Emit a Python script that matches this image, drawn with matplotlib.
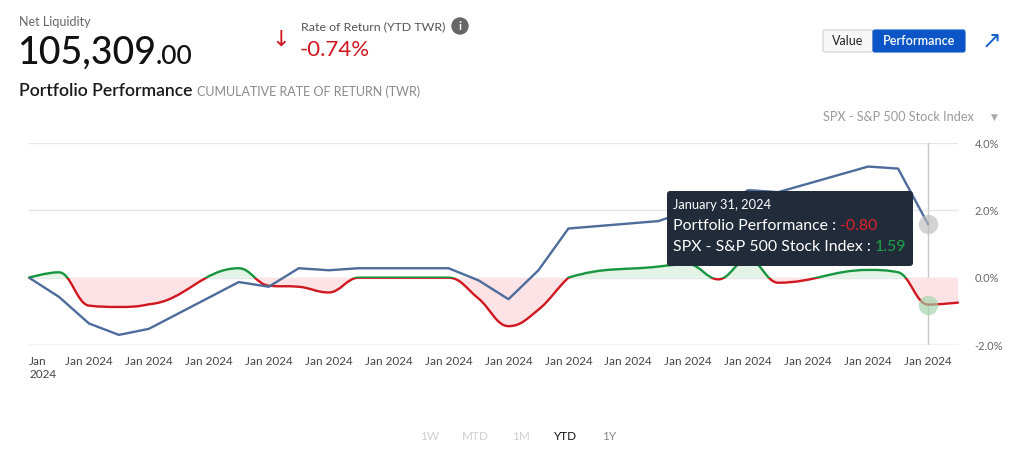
import matplotlib
matplotlib.use('Agg')
import matplotlib.pyplot as plt
from matplotlib.path import Path
from matplotlib.patches import PathPatch, Rectangle, FancyBboxPatch, Circle

plt.rcParams['font.family'] = ['Lato', 'DejaVu Sans']

# trading days of January 2024 (day of month, 32 = Feb 1)
days = [1, 2, 3, 4, 5, 8, 9, 10, 11, 12, 15, 16, 17, 18, 19, 22, 23, 24, 25, 26, 29, 30, 31, 32]
portfolio = [0.0, 0.16, -0.83, -0.87, -0.79, 0.28, -0.24, -0.27, -0.44, 0.0, 0.0, -0.62,
             -1.44, -0.95, 0.0, 0.33, 0.40, -0.05, 0.55, -0.15, 0.23, 0.16, -0.80, -0.74]
spx_days = days[:-1]
spx = [0.0, -0.57, -1.36, -1.70, -1.52, -0.13, -0.27, 0.28, 0.22, 0.28, 0.28, -0.08,
       -0.64, 0.22, 1.46, 1.68, 1.98, 2.06, 2.60, 2.54, 3.30, 3.24, 1.59]

tick_days = list(range(1, 32, 2))
tick_labels = ['Jan\n2024'] + ['Jan 2024'] * 15
y_ticks = [-2, 0, 2, 4]
y_labels = ['-2.0%', '0.0%', '2.0%', '4.0%']
ranges = ['1W', 'MTD', '1M', 'YTD', '1Y']
range_colors = ['#d0d0d0', '#d0d0d0', '#d0d0d0', '#111111', '#888888']
range_x = [430, 475, 521, 566, 609]

RED = '#d0161f'
GREEN = '#16963f'
BLUE = '#4d6c9b'


def spline(xs, ys, smoothing=1.5):
    # same kind of smoothing a spline series uses: bezier through every point
    denom = smoothing + 1
    n = len(xs)
    left = [(xs[i], ys[i]) for i in range(n)]
    right = [(xs[i], ys[i]) for i in range(n)]
    for i in range(1, n - 1):
        x, y = xs[i], ys[i]
        lx, ly = xs[i - 1], ys[i - 1]
        nx, ny = xs[i + 1], ys[i + 1]
        lcx = (smoothing * x + lx) / denom
        lcy = (smoothing * y + ly) / denom
        rcx = (smoothing * x + nx) / denom
        rcy = (smoothing * y + ny) / denom
        corr = (rcy - lcy) * (rcx - x) / (rcx - lcx) + y - rcy
        lcy += corr
        rcy += corr
        if lcy > ly and lcy > y:
            lcy = max(ly, y); rcy = 2 * y - lcy
        elif lcy < ly and lcy < y:
            lcy = min(ly, y); rcy = 2 * y - lcy
        if rcy > ny and rcy > y:
            rcy = max(ny, y); lcy = 2 * y - rcy
        elif rcy < ny and rcy < y:
            rcy = min(ny, y); lcy = 2 * y - rcy
        left[i] = (lcx, lcy)
        right[i] = (rcx, rcy)
    verts = [(xs[0], ys[0])]
    codes = [Path.MOVETO]
    for i in range(1, n):
        verts += [right[i - 1], left[i], (xs[i], ys[i])]
        codes += [Path.CURVE4] * 3
    return verts, codes


W, H = 1018, 453
fig = plt.figure(figsize=(W / 100, H / 100), dpi=100)
fig.patch.set_facecolor('white')

# main chart
ax = fig.add_axes([29 / W, 1 - 345 / H, 929 / W, 202 / H])
ax.set_xlim(1, 32)
ax.set_ylim(-2, 4)
for s in ax.spines.values():
    s.set_visible(False)
ax.set_yticks(y_ticks)
ax.set_yticklabels(y_labels)
ax.yaxis.tick_right()
ax.grid(axis='y', color='#e6e6e6', lw=1)
ax.set_axisbelow(True)
ax.axhline(-2, color='#ccd6eb', lw=1, zorder=1)
ax.set_xticks(tick_days)
ax.set_xticklabels(tick_labels)
ax.tick_params(axis='x', length=0, pad=8, labelsize=8.5, labelcolor='#444444')
ax.tick_params(axis='y', length=0, pad=12, labelsize=8, labelcolor='#666666')
for lab in ax.get_xticklabels():
    lab.set_verticalalignment('top')
ax.get_xticklabels()[0].set_horizontalalignment('left')
ax.get_xticklabels()[0].set_multialignment('left')

verts, codes = spline(days, portfolio)
above = Rectangle((0, 0), 100, 100, transform=ax.transData)
below = Rectangle((0, -100), 100, 100, transform=ax.transData)

fill_verts = verts + [(days[-1], 0), (days[0], 0), (days[0], 0)]
fill_codes = codes + [Path.LINETO, Path.LINETO, Path.CLOSEPOLY]
for clip, col in [(above, '#e3f4e7'), (below, '#fde3e5')]:
    p = PathPatch(Path(fill_verts, fill_codes), facecolor=col, edgecolor='none', zorder=2)
    ax.add_patch(p)
    p.set_clip_path(clip)
for clip, col in [(above, GREEN), (below, RED)]:
    p = PathPatch(Path(verts, codes), fill=False, edgecolor=col, lw=1.7, zorder=3,
                  capstyle='round', joinstyle='round')
    ax.add_patch(p)
    p.set_clip_path(clip)

ax.plot(spx_days, spx, color=BLUE, lw=1.7, zorder=4, solid_joinstyle='round')

# hover state on Jan 31
ax.axvline(31, color='#c8c8c8', lw=1, zorder=1)
ax.plot(31, spx[-1], 'o', ms=14, color='#bcbcbc', alpha=0.65, mec='none', zorder=5)
ax.plot(31, portfolio[-2], 'o', ms=14, color='#9ed3aa', alpha=0.65, mec='none', zorder=5)

# overlay in pixel coordinates for the page furniture
ui = fig.add_axes([0, 0, 1, 1])
ui.set_xlim(0, W)
ui.set_ylim(H, 0)
ui.axis('off')
ui.patch.set_alpha(0)
fig.canvas.draw()
renderer = fig.canvas.get_renderer()


def after(t, gap=0):
    return t.get_window_extent(renderer).x1 + gap


ui.text(19, 22, 'Net Liquidity', fontsize=9, color='#666666', va='center')
t = ui.text(17, 64, '105,309', fontsize=27, color='#111111', va='baseline', weight='medium')
ui.text(after(t), 64, '.00', fontsize=19, color='#111111', va='baseline', weight='medium')
t = ui.text(19, 96, 'Portfolio Performance', fontsize=12.7, color='#1a1a1a', va='baseline',
            weight='semibold')
ui.text(after(t, 5), 96, 'CUMULATIVE RATE OF RETURN (TWR)', fontsize=9, color='#8a8a8a',
        va='baseline')

ui.text(281, 40, '\u2193', fontsize=16, color=RED, ha='center', va='center',
        family='DejaVu Sans')
ui.text(301, 27, 'Rate of Return (YTD TWR)', fontsize=8.9, color='#555555', va='center')
ui.add_patch(Circle((460, 26), 8, color='#666666'))
ui.text(460, 26.5, 'i', fontsize=8.5, color='white', ha='center', va='center', weight='bold')
ui.text(300, 50, '-0.74%', fontsize=16, color=RED, va='center')

ui.add_patch(FancyBboxPatch((823, 30), 50, 22, boxstyle='round,pad=0,rounding_size=2',
                            fc='#f7f7f7', ec='#cfcfcf', lw=0.8))
ui.add_patch(FancyBboxPatch((873, 30), 92, 22, boxstyle='round,pad=0,rounding_size=2',
                            fc='#0b55c6', ec='#0b55c6', lw=0.8))
ui.text(848, 41, 'Value', fontsize=9, color='#222222', ha='center', va='center')
ui.text(919, 41, 'Performance', fontsize=9, color='white', ha='center', va='center',
        weight='semibold')
ui.text(992, 41, '\u2197', fontsize=17, color='#1863c9', ha='center', va='center',
        family='DejaVu Sans')

ui.text(823, 117, 'SPX - S&P 500 Stock Index', fontsize=9.2, color='#9a9a9a', va='center')
ui.text(994, 117, '\u25BC', fontsize=6.5, color='#aaaaaa', ha='center', va='center',
        family='DejaVu Sans')

for lab, col, x in zip(ranges, range_colors, range_x):
    ui.text(x, 436, lab, fontsize=8.5, color=col, ha='center', va='center')

# tooltip
ui.add_patch(FancyBboxPatch((667, 191), 246, 75, boxstyle='round,pad=0,rounding_size=3',
                            fc='#222b39', ec='none', zorder=6))
ui.text(673, 205, 'January 31, 2024', fontsize=9.3, color='white', va='center', zorder=7)
t = ui.text(673, 226, 'Portfolio Performance : ', fontsize=11.4, color='white', va='center',
            zorder=7)
ui.text(after(t), 226, '%.2f' % portfolio[-2], fontsize=11.4, color='#e0212e', va='center',
        zorder=7)
t = ui.text(673, 247, 'SPX - S&P 500 Stock Index : ', fontsize=11.4, color='white',
            va='center', zorder=7)
ui.text(after(t), 247, '%.2f' % spx[-1], fontsize=11.4, color='#1fa34a', va='center', zorder=7)

fig.savefig('out.png', dpi=100)
